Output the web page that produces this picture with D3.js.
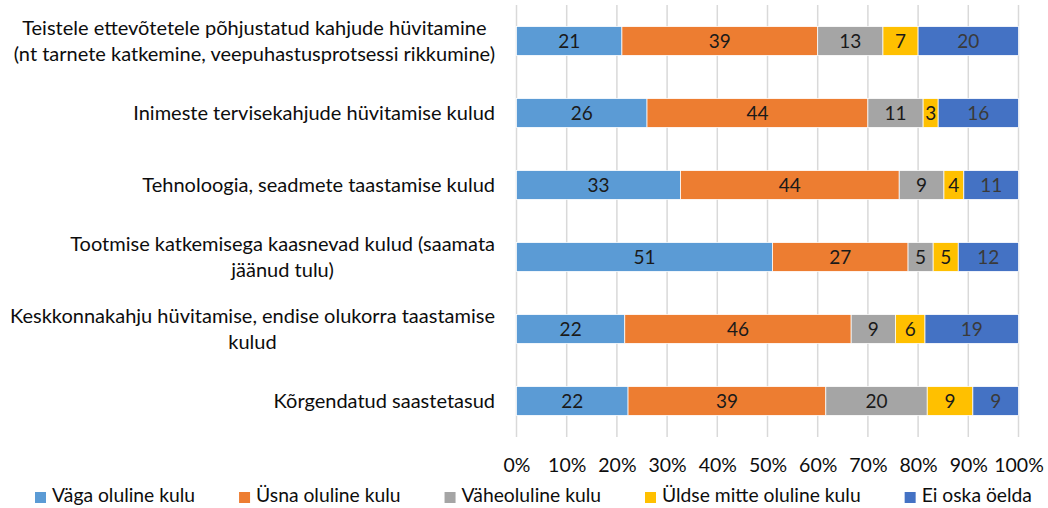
<!DOCTYPE html>
<html>
<head>
<meta charset="utf-8">
<script src="https://cdn.jsdelivr.net/npm/d3@7"></script>
<style>
  html, body { margin: 0; padding: 0; background: #fff; }
  svg { display: block; font-family: Lato, "Open Sans", sans-serif; }
</style>
</head>
<body>
<svg id="chart" width="1048" height="508"></svg>
<script>
// Cost categories (each entry is a list of label lines)
const categories = [
  ["Teistele ettevõtetele põhjustatud kahjude hüvitamine", "(nt tarnete katkemine, veepuhastusprotsessi rikkumine)"],
  ["Inimeste tervisekahjude hüvitamise kulud"],
  ["Tehnoloogia, seadmete taastamise kulud"],
  ["Tootmise katkemisega kaasnevad kulud (saamata", "jäänud tulu)"],
  ["Keskkonnakahju hüvitamise, endise olukorra taastamise", "kulud"],
  ["Kõrgendatud saastetasud"]
];

const seriesNames = ["Väga oluline kulu", "Üsna oluline kulu", "Väheoluline kulu", "Üldse mitte oluline kulu", "Ei oska öelda"];
const seriesColors = ["#5B9BD5", "#ED7D31", "#A5A5A5", "#FFC000", "#4472C4"];

// Shares (%) per category, one array per answer option
const vagaOluline   = [21, 26, 33, 51, 22, 22];
const usnaOluline   = [39, 44, 44, 27, 46, 39];
const vaheoluline   = [13, 11,  9,  5,  9, 20];
const uldseMitte    = [ 7,  3,  4,  5,  6,  9];
const eiOskaOelda   = [20, 16, 11, 12, 19,  9];

const xTicks = [0, 0.1, 0.2, 0.3, 0.4, 0.5, 0.6, 0.7, 0.8, 0.9, 1];

const seriesValues = [vagaOluline, usnaOluline, vaheoluline, uldseMitte, eiOskaOelda];
const rows = categories.map((c, i) => {
  const r = { key: i };
  seriesNames.forEach((s, j) => r[s] = seriesValues[j][i]);
  return r;
});

const stack = d3.stack().keys(seriesNames).offset(d3.stackOffsetExpand);
const layers = stack(rows);

const svg = d3.select("#chart");
const fontSize = 20;

const x = d3.scaleLinear().domain([0, 1]).range([516.5, 1018.5]);
const y = d3.scaleBand().domain(d3.range(categories.length)).range([5, 437])
  .paddingInner(0.6).paddingOuter(0.3);

// Vertical gridlines
svg.append("g").selectAll("line").data(xTicks).join("line")
  .attr("x1", d => x(d)).attr("x2", d => x(d))
  .attr("y1", 5).attr("y2", 437)
  .attr("stroke", "#d9d9d9").attr("stroke-width", 1.5);

// Bars
const layerG = svg.append("g").selectAll("g").data(layers).join("g")
  .attr("fill", (d, i) => seriesColors[i]);

layerG.selectAll("rect").data(d => d).join("rect")
  .attr("x", d => x(d[0]))
  .attr("width", d => x(d[1]) - x(d[0]))
  .attr("y", (d, i) => y(i))
  .attr("height", y.bandwidth())
  .attr("stroke", "#fff").attr("stroke-width", 0.75);

// Value labels
layers.forEach((layer, si) => {
  svg.append("g").selectAll("text").data(layer).join("text")
    .attr("x", d => (x(d[0]) + x(d[1])) / 2)
    .attr("y", (d, i) => y(i) + y.bandwidth() / 2)
    .attr("dy", "0.36em")
    .attr("text-anchor", "middle")
    .attr("font-size", 19)
    .attr("fill", si === 4 ? "#3a3a3a" : "#1a1a1a")
    .text((d, i) => seriesValues[si][i]);
});

// Category labels: each block right-aligned, lines centred within the block
const lineGap = 26;
const catG = svg.append("g");
categories.forEach((lines, i) => {
  const t = catG.append("text")
    .attr("font-size", fontSize).attr("fill", "#0d0d0d")
    .attr("text-anchor", "middle");
  const cy = y(i) + y.bandwidth() / 2;
  const spans = t.selectAll("tspan").data(lines).join("tspan")
    .attr("y", (d, k) => cy + (k - (lines.length - 1) / 2) * lineGap)
    .attr("dy", "0.36em")
    .text(d => d);
  const widths = spans.nodes().map(n => n.getComputedTextLength());
  const maxW = d3.max(widths);
  spans.attr("x", 495 - maxW / 2);
});

// X axis tick labels
const xAxis = d3.axisBottom(x).tickValues(xTicks).tickFormat(d3.format(".0%")).tickSize(0).tickPadding(0);
const axG = svg.append("g").attr("transform", "translate(0,458)").call(xAxis);
axG.select(".domain").remove();
axG.selectAll("text").attr("font-size", 19.5).attr("font-family", "Lato, 'Open Sans', sans-serif")
  .attr("fill", "#0d0d0d").attr("dy", "0.71em").attr("y", 0);

// Legend
const legend = svg.append("g");
let lx = 35;
seriesNames.forEach((name, i) => {
  legend.append("rect").attr("x", lx).attr("y", 492).attr("width", 11).attr("height", 11)
    .attr("fill", seriesColors[i]);
  const t = legend.append("text").attr("x", lx + 17).attr("y", 502)
    .attr("font-size", 19.3).attr("fill", "#0d0d0d").text(name);
  lx += 17 + t.node().getComputedTextLength() + 44;
});
</script>
</body>
</html>
